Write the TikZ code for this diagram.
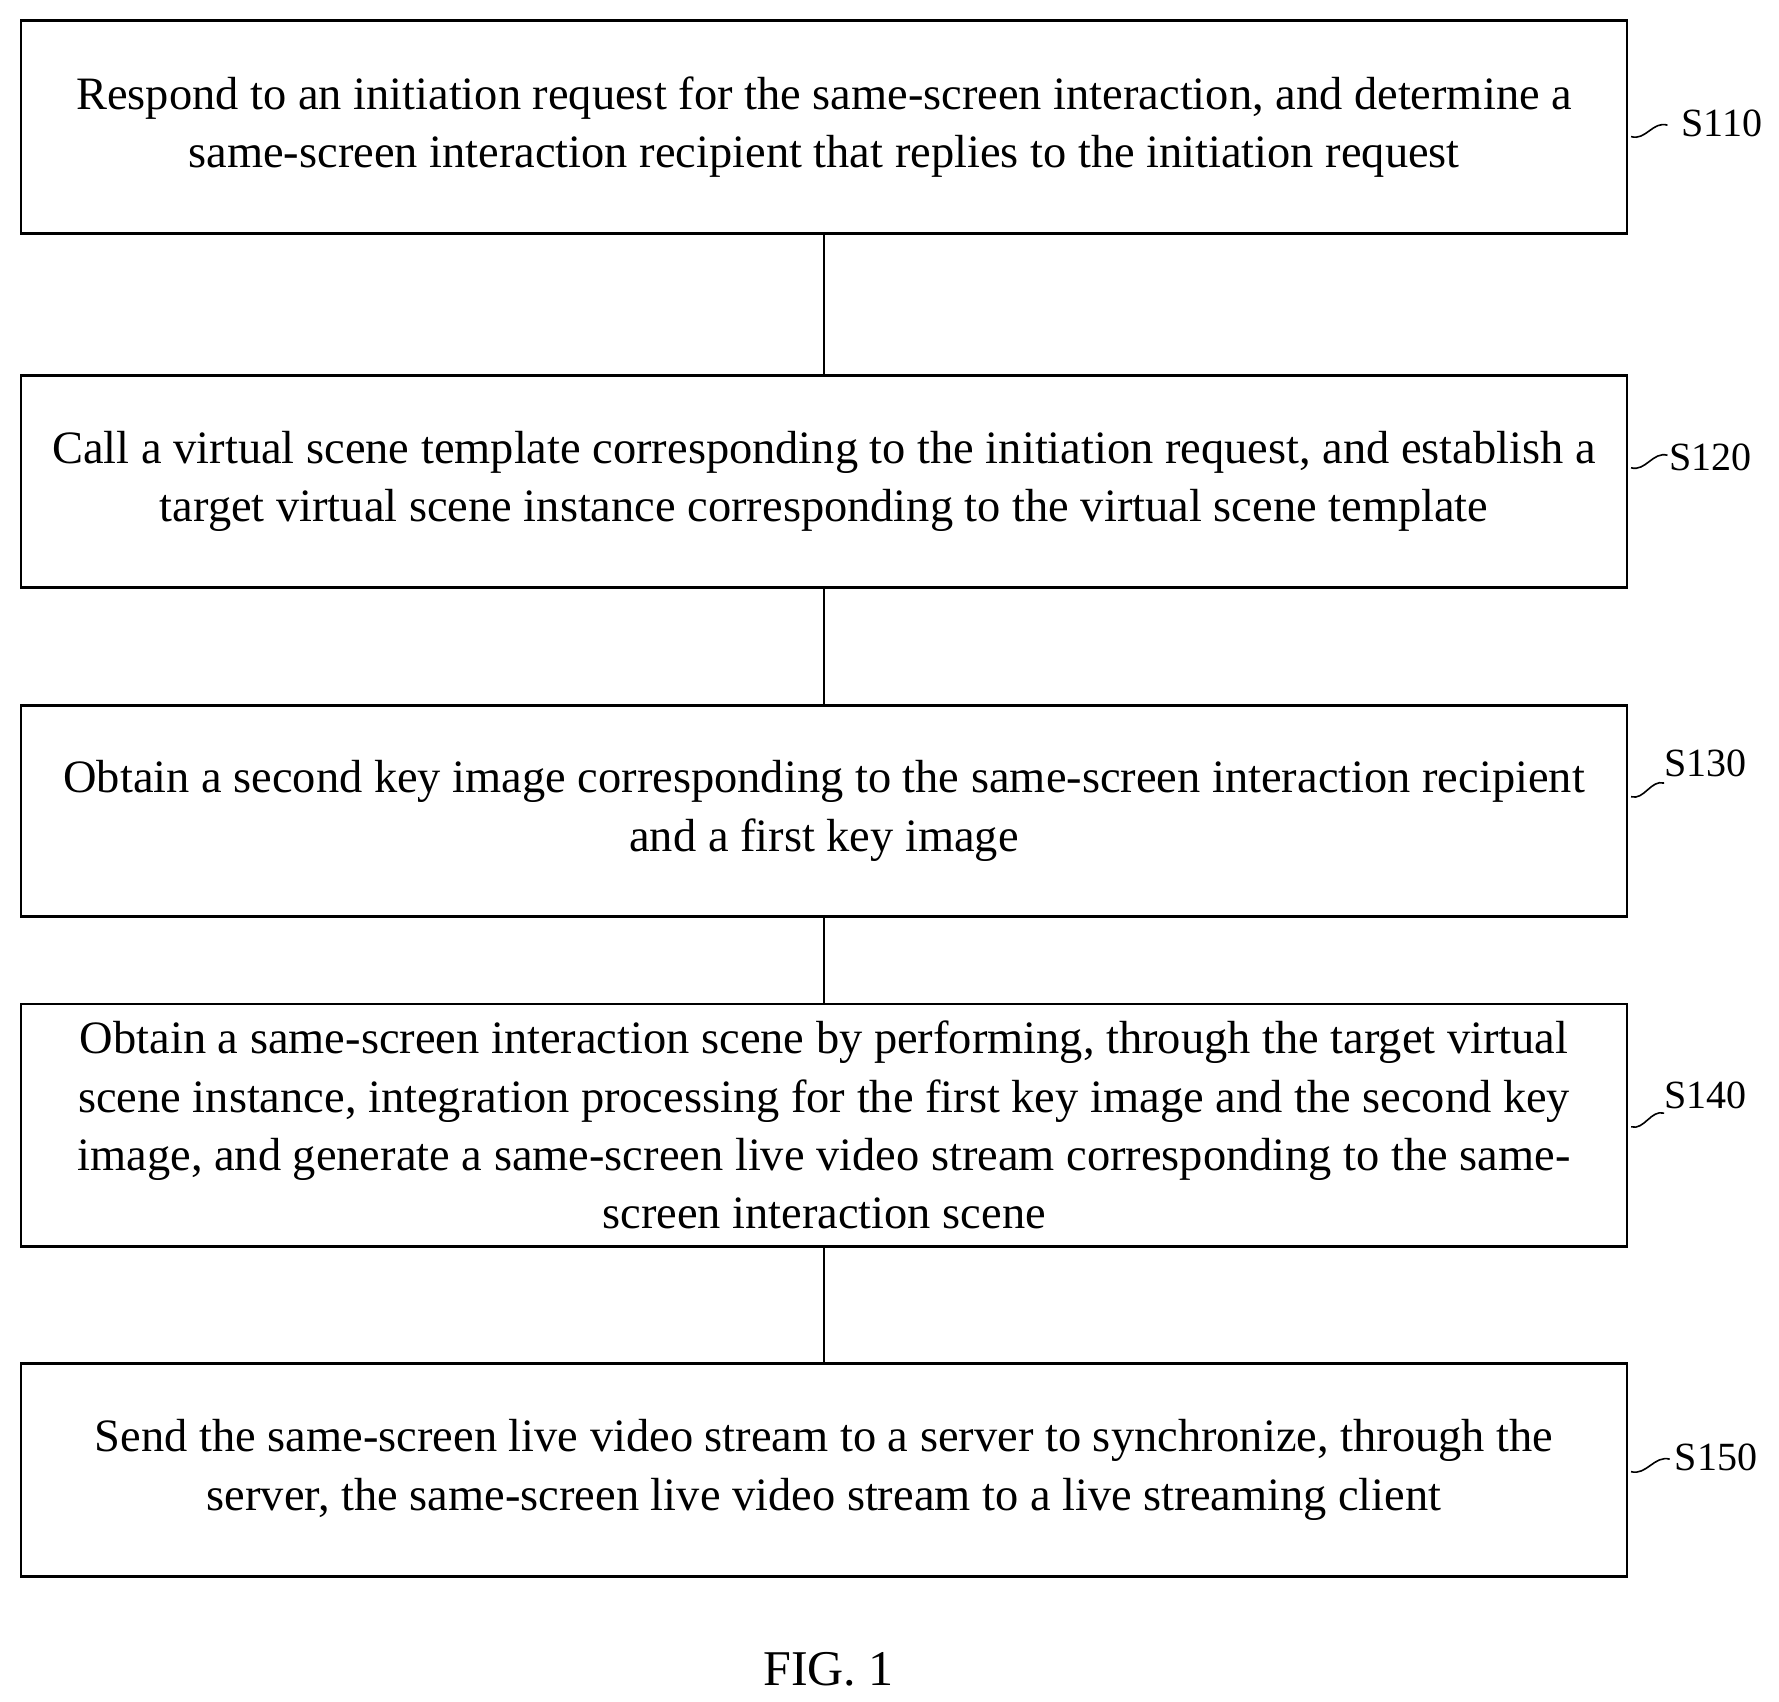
\documentclass[tikz,border=0pt]{standalone}
\usepackage{fontspec}
\setmainfont{Liberation Serif}
\usetikzlibrary{calc}
\begin{document}
\begin{tikzpicture}[x=0.01cm,y=-0.01cm,
 box/.style={draw,line width=0.6pt,minimum width=14.1cm,align=center,inner sep=0pt,font=\fontsize{11.6}{14.6}\selectfont},
 lbl/.style={font=\fontsize{10}{12}\selectfont,anchor=west}]
\useasboundingbox (0,0) rectangle (1563,1495);
\node[box,minimum height=1.87cm] (b1) at (724,111.5) {Respond to an initiation request for the same-screen interaction, and determine a\\ same-screen interaction recipient that replies to the initiation request};
\node[box,minimum height=1.86cm] (b2) at (724,423) {Call a virtual scene template corresponding to the initiation request, and establish a\\ target virtual scene instance corresponding to the virtual scene template};
\node[box,minimum height=1.85cm] (b3) at (724,712.5) {Obtain a second key image corresponding to the same-screen interaction recipient\\ and a first key image};
\node[box,minimum height=2.13cm] (b4) at (724,988.5) {Obtain a same-screen interaction scene by performing, through the target virtual\\ scene instance, integration processing for the first key image and the second key\\ image, and generate a same-screen live video stream corresponding to the same-\\ screen interaction scene};
\node[box,minimum height=1.87cm] (b5) at (724,1291.5) {Send the same-screen live video stream to a server to synchronize, through the\\ server, the same-screen live video stream to a live streaming client};
\foreach \a/\b in {b1/b2,b2/b3,b3/b4,b4/b5} \draw[line width=0.6pt] (\a) -- (\b);
\coordinate (c1) at (1433,120); \coordinate (d1) at (1465,110);
\coordinate (c2) at (1433,411); \coordinate (d2) at (1465,400);
\coordinate (c3) at (1433,700); \coordinate (d3) at (1462,688);
\coordinate (c4) at (1433,990); \coordinate (d4) at (1462,978);
\coordinate (c5) at (1433,1293); \coordinate (d5) at (1467,1282);
\foreach \i in {1,...,5} \draw[line width=0.4pt] (c\i) .. controls ($(c\i)!0.4!(d\i)+(0,8)$) and ($(c\i)!0.6!(d\i)+(0,-8)$) .. (d\i);
\node[lbl] (l1) at (1465,108) {S110};
\node[lbl] (l2) at (1454,402) {S120};
\node[lbl] (l3) at (1450,671) {S130};
\node[lbl] (l4) at (1450,962) {S140};
\node[lbl] (l5) at (1459,1280) {S150};
\node[font=\fontsize{12.5}{15}\selectfont] (fig) at (728,1467) {FIG. 1};
\end{tikzpicture}
\end{document}
